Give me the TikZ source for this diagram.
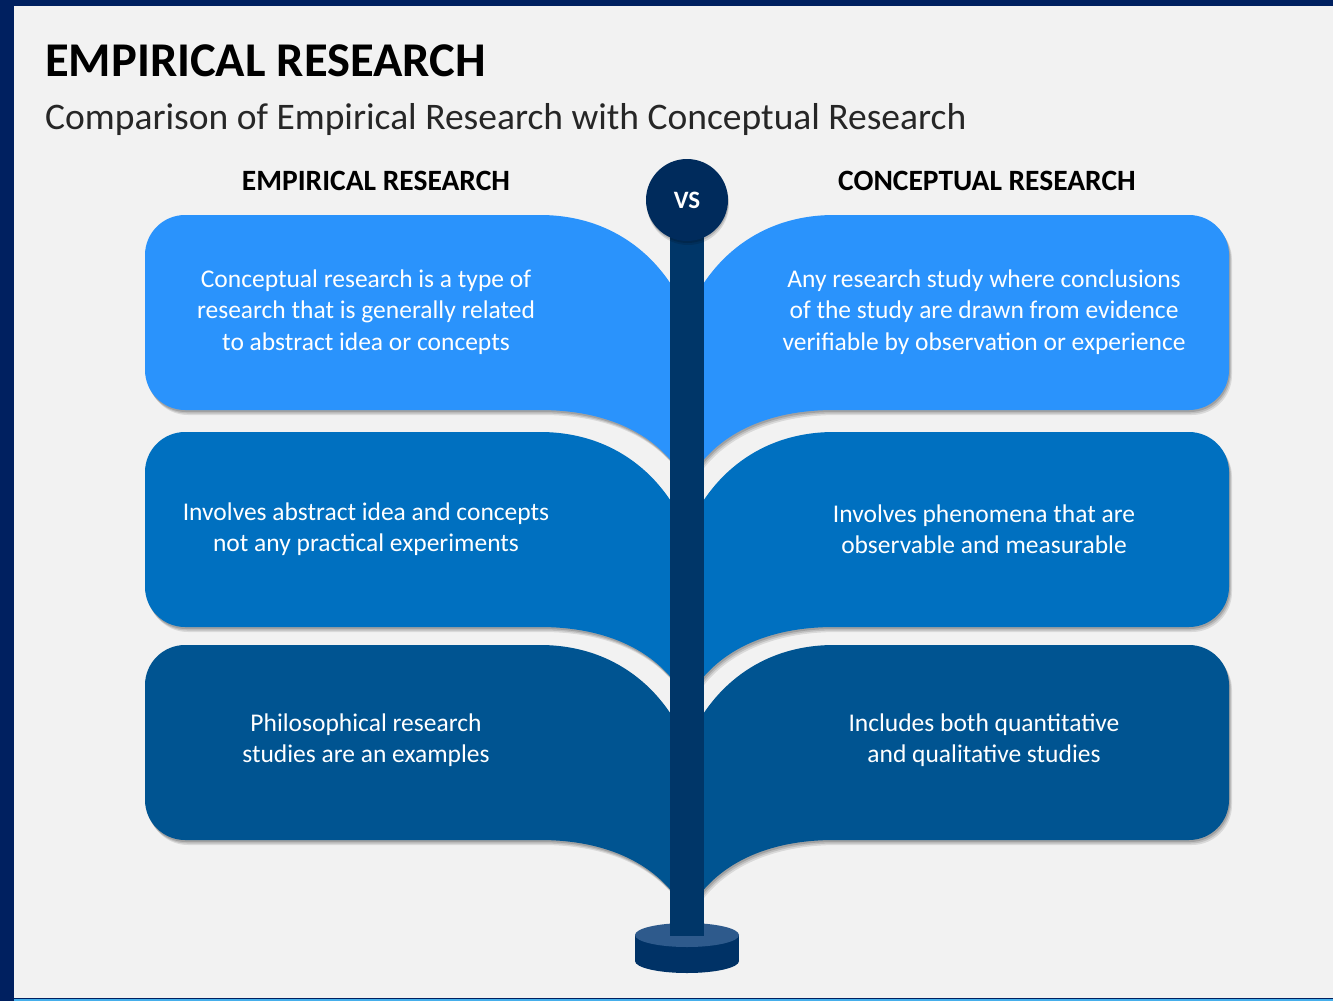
\documentclass[tikz,border=0pt]{standalone}
\usepackage{fontspec}
\setmainfont{Carlito}
\usetikzlibrary{shadows}
\definecolor{navyframe}{RGB}{0,32,96}
\definecolor{bggray}{RGB}{242,242,242}
\definecolor{bottomline}{RGB}{70,175,235}
\definecolor{leafA}{RGB}{42,147,252}
\definecolor{leafB}{RGB}{0,112,192}
\definecolor{leafC}{RGB}{0,84,145}
\definecolor{stemc}{RGB}{0,54,104}
\definecolor{vsc}{RGB}{0,43,92}
\definecolor{basetop}{RGB}{46,90,140}
\definecolor{baseside}{RGB}{0,50,102}
\definecolor{subtext}{RGB}{38,38,38}
\newcommand\leafshape[4]{% #1 top, #2 bottom, #3 colour, #4 sign
\fill[#3, leafshadow] ({687-#4*502},#1) -- ({687-#4*147},#1)
  .. controls ({687-#4*72},#1) and ({687-#4*22},#1+45) .. (687,#1+100)
  -- (687,#2+75)
  .. controls ({687-#4*22},#2+30) and ({687-#4*72},#2) .. ({687-#4*147},#2)
  -- ({687-#4*502},#2)
  .. controls ({687-#4*524},#2) and ({687-#4*542},#2-18) .. ({687-#4*542},#2-40)
  -- ({687-#4*542},#1+40)
  .. controls ({687-#4*542},#1+18) and ({687-#4*524},#1) .. cycle;}
\begin{document}
\begin{tikzpicture}[x=1pt,y=-1pt,
  leafshadow/.style={
    preaction={fill=black,opacity=0.10,transform canvas={shift={(3pt,-5pt)}}},
    preaction={fill=black,opacity=0.12,transform canvas={shift={(2pt,-3.5pt)}}},
    preaction={fill=black,opacity=0.15,transform canvas={shift={(1pt,-2pt)}}}},
  bodytext/.style={text=white,align=center,font=\fontsize{25.5}{31.5}\selectfont},
  header/.style={text=black,font=\bfseries\fontsize{29.5}{32}\selectfont},
]
\useasboundingbox (0,0) rectangle (1333,1001);
\fill[navyframe] (0,0) rectangle (1333,1001);
\fill[bggray] (14,6) rectangle (1333,998);
\fill[bottomline] (14,998.5) rectangle (1333,1001);

\node[anchor=base west,inner sep=0,font=\bfseries\fontsize{48.5}{52}\selectfont] (title) at (45,76) {EMPIRICAL RESEARCH};
\node[anchor=base west,inner sep=0,text=subtext,font=\fontsize{37.5}{42}\selectfont] (subtitle) at (45,129) {Comparison of Empirical Research with Conceptual Research};

\node[header] (hl) at (376,181) {EMPIRICAL RESEARCH};
\node[header] (hr) at (987,181) {CONCEPTUAL RESEARCH};

\leafshape{215}{410}{leafA}{1}
\leafshape{432}{627}{leafB}{1}
\leafshape{645}{840}{leafC}{1}
\leafshape{215}{410}{leafA}{(-1)}
\leafshape{432}{627}{leafB}{(-1)}
\leafshape{645}{840}{leafC}{(-1)}

% base
\fill[baseside] (635,935) rectangle (739,961);
\fill[baseside] (687,961) ellipse[x radius=52,y radius=12];
\fill[basetop] (687,935) ellipse[x radius=52,y radius=12];
% stem
\fill[stemc] (670,200) rectangle (704,936);
\node[circle,fill=vsc,minimum size=82,inner sep=0,text=white,
  font=\bfseries\fontsize{25}{28}\selectfont,
  preaction={fill=black,opacity=0.12,transform canvas={shift={(1pt,-4pt)}}},
  preaction={fill=black,opacity=0.15,transform canvas={shift={(0.5pt,-2pt)}}}] (vs) at (687,200) {VS};

\node[bodytext] (l1) at (366,312) {Conceptual research is a type of\\research that is generally related\\to abstract idea or concepts};
\node[bodytext] (l2) at (366,529) {Involves abstract idea and concepts\\not any practical experiments};
\node[bodytext] (l3) at (366,740) {Philosophical research\\studies are an examples};
\node[bodytext] (r1) at (984,312) {Any research study where conclusions\\of the study are drawn from evidence\\verifiable by observation or experience};
\node[bodytext] (r2) at (984,529) {Involves phenomena that are\\observable and measurable};
\node[bodytext] (r3) at (984,740) {Includes both quantitative\\and qualitative studies};
\end{tikzpicture}
\end{document}
